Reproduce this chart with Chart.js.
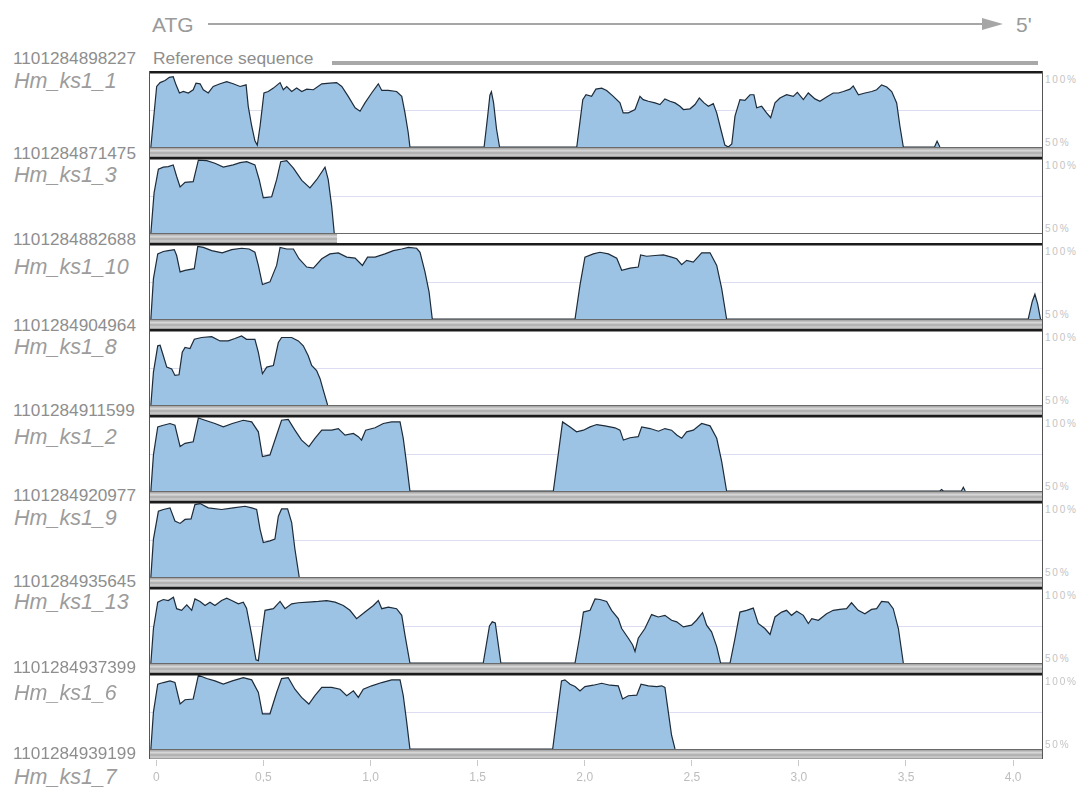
<!DOCTYPE html>
<html>
    <head>
        <meta charset="UTF-8" />
        <title>Conservation plot</title>
        <script src="https://cdn.jsdelivr.net/npm/chart.js@4.4.2/dist/chart.umd.min.js"></script>
        <style>
            body {
                margin: 0;
                width: 1080px;
                height: 789px;
                background: #fff;
                position: relative;
                overflow: hidden;
                font-family: "Liberation Sans", Arial, sans-serif;
            }
            .lbl {
                position: absolute;
                white-space: nowrap;
                line-height: 1;
            }
            .num {
                left: 13px;
                font-size: 17.2px;
                color: #8e8e8e;
            }
            .name {
                left: 14px;
                font-size: 21.5px;
                font-style: italic;
                color: #9c9c9c;
            }
            .pct {
                left: 1045px;
                font-size: 10px;
                letter-spacing: 1.8px;
                color: #c4c4c4;
            }
            canvas {
                position: absolute;
                left: 149px;
            }
        </style>
    </head>
    <body>
        <div class="lbl" style="left: 152px; top: 14px; font-size: 21px; color: #9a9a9a">ATG</div>
        <div style="position: absolute; left: 208px; top: 23px; width: 776px; height: 2px; background: #a6a6a6"></div>
        <div style="position: absolute; left: 982px; top: 18px; width: 0; height: 0; border-top: 6px solid transparent; border-bottom: 6px solid transparent; border-left: 21px solid #a6a6a6"></div>
        <div class="lbl" style="left: 1016px; top: 14px; font-size: 21px; color: #9a9a9a">5'</div>
        <div class="lbl" style="left: 153px; top: 50px; font-size: 17.4px; color: #8e8e8e">Reference sequence</div>
        <div style="position: absolute; left: 332px; top: 61px; width: 706px; height: 4px; background: #a8a8a8"></div>

        <canvas id="axis" width="894" height="44" style="top: 738px"></canvas>
        <div id="panels"></div>

        <script>
            // sequence names (left) and the accession numbers between them
            var names = ["Hm_ks1_1", "Hm_ks1_3", "Hm_ks1_10", "Hm_ks1_8", "Hm_ks1_2", "Hm_ks1_9", "Hm_ks1_13", "Hm_ks1_6", "Hm_ks1_7"];
            var numbers = ["1101284898227", "1101284871475", "1101284882688", "1101284904964", "1101284911599",
                "1101284920977", "1101284935645", "1101284937399", "1101284939199"];
            var nameY = [82, 176, 268, 348, 438, 519, 603, 694, 778];
            var numberY = [58, 153, 239, 325, 410, 495, 581, 667, 753];

            // x axis (kb)
            var xTicks = [0, 0.5, 1.0, 1.5, 2.0, 2.5, 3.0, 3.5, 4.0];
            var xTickLabels = ["0", "0,5", "1,0", "1,5", "2,0", "2,5", "3,0", "3,5", "4,0"];

            // length of each aligned sequence (kb), drawn as the grey bar
            var seqLength = [4.135, 0.856, 4.135, 4.135, 4.135, 4.135, 4.135, 4.135];

            // conservation (%) per position (kb)
            var ks1_1 = [[-0.01,50],[0.017,90.9],[0.033,93.5],[0.056,94.9],[0.076,97.1],[0.094,97.5],[0.107,92],[0.123,86.5],[0.141,87.5],[0.164,86.5],[0.187,88.7],[0.2,93.1],[0.219,92.7],[0.234,88.7],[0.257,86.5],[0.28,90.9],[0.312,92.7],[0.343,94.2],[0.373,92.7],[0.405,90.9],[0.433,92],[0.443,77.5],[0.459,64.2],[0.474,54.2],[0.485,51.3],[0.498,64.2],[0.516,86.5],[0.536,87.5],[0.56,89.8],[0.591,93.5],[0.606,88.7],[0.622,90.9],[0.645,87.5],[0.668,89.8],[0.692,87.5],[0.715,89.1],[0.746,88.7],[0.785,92.7],[0.823,93.1],[0.854,93.5],[0.878,90.9],[0.908,84.2],[0.94,76.5],[0.963,74.2],[0.986,79.8],[1.017,86.5],[1.048,92.7],[1.064,88.2],[1.094,88.2],[1.133,87.5],[1.157,84.2],[1.172,73.1],[1.187,59.8],[1.195,50],
                [1.54,50],[1.556,70],[1.567,85],[1.574,87.3],[1.584,80],[1.598,62],[1.612,50],
                [1.971,50],[1.999,82],[2.014,85.3],[2.04,84.2],[2.06,89.1],[2.087,89.8],[2.11,88.2],[2.141,84.2],[2.172,79.8],[2.187,73.1],[2.211,73.1],[2.242,75.3],[2.265,84.2],[2.28,82],[2.304,80.9],[2.335,79.8],[2.358,78.7],[2.381,82.5],[2.405,80.9],[2.428,79.8],[2.451,77.5],[2.467,75.3],[2.498,75.8],[2.521,78.7],[2.541,83.1],[2.563,79.8],[2.583,77.5],[2.606,79.3],[2.622,73.1],[2.641,62],[2.66,51.3],[2.676,50],[2.692,52],[2.707,70.9],[2.73,82],[2.753,81.5],[2.777,85.3],[2.795,85.3],[2.808,76.5],[2.831,77.5],[2.854,73.1],[2.873,69.8],[2.893,79.8],[2.916,83.1],[2.947,85.3],[2.978,84.2],[2.997,86.9],[3.025,82],[3.048,86.5],[3.079,82.5],[3.102,80.9],[3.133,83.8],[3.164,86.5],[3.188,86.5],[3.211,87.5],[3.242,89.1],[3.257,91.3],[3.281,85.3],[3.312,86.5],[3.343,87.5],[3.366,88.7],[3.389,92],[3.413,90.5],[3.436,87.5],[3.459,79.8],[3.474,64.2],[3.49,50],
                [3.635,50],[3.647,54],[3.66,50]];
            var ks1_3 = [[-0.01,50],[0.005,77.1],[0.025,93.1],[0.048,94.5],[0.071,94.9],[0.094,96],[0.11,88.2],[0.126,81.1],[0.149,84.2],[0.187,84.7],[0.211,99.3],[0.25,98.9],[0.288,97.1],[0.327,94.5],[0.373,96],[0.405,97.5],[0.436,98.2],[0.474,96],[0.494,86],[0.513,73.8],[0.552,74.5],[0.575,86],[0.594,98.2],[0.622,98.9],[0.653,93.8],[0.692,85.5],[0.73,80.5],[0.761,86],[0.8,94.5],[0.815,86],[0.831,68.2],[0.843,50]];
            var ks1_10 = [[-0.01,50],[0.002,77.3],[0.022,94],[0.048,95.6],[0.071,96.2],[0.099,96.9],[0.11,92.9],[0.126,81.8],[0.149,82.9],[0.192,84],[0.208,99.1],[0.234,98.4],[0.273,96.2],[0.322,94.7],[0.366,96.9],[0.412,97.8],[0.447,97.3],[0.474,95.1],[0.49,86.2],[0.509,73.3],[0.544,75.1],[0.575,86.2],[0.591,98.4],[0.622,97.3],[0.653,97.3],[0.679,90.7],[0.715,85.1],[0.746,84.4],[0.785,90.7],[0.823,94],[0.862,94.7],[0.901,91.8],[0.94,91.1],[0.974,86.2],[0.998,91.8],[1.033,91.8],[1.079,94],[1.118,96.2],[1.157,97.3],[1.188,98.4],[1.226,97.8],[1.242,95.1],[1.265,81.8],[1.284,68.4],[1.299,50],
                [1.963,50],[1.986,72.9],[2.009,91.8],[2.048,94],[2.079,95.1],[2.118,94],[2.157,91.1],[2.18,82.9],[2.219,84.4],[2.257,85.1],[2.268,93.3],[2.296,92.4],[2.335,92.9],[2.374,93.3],[2.412,91.8],[2.436,90.7],[2.459,86.7],[2.482,89.6],[2.513,88.4],[2.552,94.7],[2.591,94.7],[2.622,86.2],[2.645,70.7],[2.668,50],
                [4.071,50],[4.09,62],[4.102,66.7],[4.115,60],[4.128,50]];
            var ks1_8 = [[-0.01,50],[0.002,72.2],[0.022,90],[0.033,90.4],[0.048,83.3],[0.064,75.6],[0.087,74.4],[0.102,70],[0.121,70.4],[0.136,85.6],[0.149,88.9],[0.172,88.2],[0.192,94.4],[0.226,95.6],[0.273,96.2],[0.312,93.3],[0.35,93.3],[0.381,94.9],[0.412,96.7],[0.435,94.4],[0.474,94.4],[0.49,85.6],[0.509,71.1],[0.529,75.6],[0.56,76.7],[0.583,92.2],[0.598,95.6],[0.645,95.6],[0.676,93.3],[0.699,90],[0.722,83.3],[0.738,76.7],[0.761,73.3],[0.777,67.8],[0.792,60],[0.812,50]];
            var ks1_2 = [[-0.01,50],[0.002,74.4],[0.022,93.3],[0.048,94.4],[0.079,95.6],[0.102,94.4],[0.126,80],[0.149,82.2],[0.187,83.3],[0.211,99.3],[0.242,97.8],[0.288,95.6],[0.327,93.3],[0.369,95.6],[0.42,97.8],[0.459,96.7],[0.49,90],[0.509,73.3],[0.544,74.4],[0.575,87.8],[0.598,97.8],[0.629,98.4],[0.66,91.1],[0.691,84.4],[0.725,80],[0.753,85.6],[0.785,91.1],[0.831,91.1],[0.862,92.2],[0.893,87.8],[0.932,88.9],[0.955,86.7],[0.97,84.4],[0.989,91.1],[1.033,92.7],[1.071,95.6],[1.11,96.7],[1.149,96.7],[1.164,85.6],[1.18,67.8],[1.195,50],
                [1.862,50],[1.905,96.7],[1.94,93.3],[1.97,90],[2.002,91.1],[2.033,93.3],[2.064,94.9],[2.102,94],[2.149,92.7],[2.172,91.1],[2.188,84.4],[2.219,86],[2.257,86.7],[2.273,93.3],[2.312,92.2],[2.351,90.4],[2.381,92.2],[2.412,91.1],[2.436,87.8],[2.459,85.6],[2.482,90],[2.513,91.1],[2.552,95.6],[2.591,94],[2.622,85.6],[2.645,70],[2.668,50],
                [3.66,50],[3.668,51],[3.676,50],[3.76,50],[3.769,52.5],[3.778,50]];
            var ks1_9 = [[-0.01,50],[0.002,75.6],[0.025,94.4],[0.048,95.6],[0.079,96.7],[0.102,87.8],[0.126,86.2],[0.149,88.9],[0.177,89.3],[0.195,98.9],[0.219,99.6],[0.257,96.7],[0.319,95.6],[0.373,96.7],[0.428,97.8],[0.459,96.7],[0.482,95.6],[0.498,82.2],[0.513,73.3],[0.544,74.4],[0.567,75.6],[0.583,91.1],[0.598,96],[0.626,96],[0.645,86.7],[0.66,68.9],[0.68,50]];
            var ks1_13 = [[-0.01,50],[0.002,73.3],[0.022,91.1],[0.048,92.9],[0.071,92.2],[0.095,94.4],[0.11,86.7],[0.133,85.6],[0.157,89.3],[0.18,85.6],[0.195,93.3],[0.219,91.6],[0.242,88.9],[0.265,91.1],[0.288,88.9],[0.319,92.2],[0.343,93.8],[0.366,92.2],[0.397,90],[0.42,91.1],[0.435,87.1],[0.459,68.9],[0.479,52.2],[0.49,51.6],[0.505,68.9],[0.521,85.6],[0.56,86.7],[0.591,91.6],[0.614,86.7],[0.645,90],[0.676,90.7],[0.722,91.1],[0.769,91.6],[0.808,92.2],[0.847,91.1],[0.885,88.9],[0.916,85.6],[0.947,80],[0.986,84.4],[1.025,88.9],[1.048,92.2],[1.064,86.7],[1.095,87.8],[1.133,86.7],[1.157,82.2],[1.172,68.9],[1.195,50],
                [1.536,50],[1.565,75],[1.578,77.8],[1.592,77],[1.618,50],
                [1.963,50],[1.986,68.9],[2.002,84.4],[2.033,85.6],[2.056,93.3],[2.079,92.9],[2.11,91.6],[2.133,85.6],[2.164,80],[2.18,73.3],[2.211,66.7],[2.231,62.2],[2.242,57.8],[2.257,66.7],[2.288,73.3],[2.319,82.7],[2.35,81.1],[2.381,82.2],[2.412,78.9],[2.436,77.8],[2.467,74.4],[2.505,75.6],[2.528,78.9],[2.556,84],[2.575,75.6],[2.598,71.1],[2.622,61.1],[2.64,50],[2.684,50],[2.707,66.7],[2.73,84.4],[2.761,85.6],[2.792,87.1],[2.815,76.7],[2.846,73.3],[2.87,69.3],[2.893,81.1],[2.924,84.4],[2.947,85.6],[2.97,82.2],[2.994,84.9],[3.025,82.2],[3.048,76.7],[3.064,80],[3.095,78.9],[3.133,83.3],[3.164,85.6],[3.195,86.2],[3.226,86.7],[3.249,90.7],[3.28,85.6],[3.311,83.3],[3.342,86.2],[3.366,86.7],[3.389,91.6],[3.42,91.1],[3.443,86.7],[3.467,73.3],[3.49,50]];
            var ks1_6 = [[-0.01,50],[0.002,74.9],[0.022,93.8],[0.048,94.9],[0.079,96],[0.102,94.9],[0.126,80.4],[0.149,83.3],[0.187,83.8],[0.211,99.8],[0.25,97.6],[0.288,96],[0.327,93.8],[0.369,96],[0.42,98.2],[0.459,96.7],[0.49,88.2],[0.509,73.8],[0.544,73.8],[0.575,88.2],[0.598,97.6],[0.629,98.2],[0.66,90.4],[0.691,84.9],[0.725,80.4],[0.753,86],[0.785,91.6],[0.831,91.6],[0.87,90.4],[0.901,86],[0.932,89.3],[0.955,84.9],[0.978,90.4],[1.017,92.7],[1.064,94.9],[1.11,96.7],[1.149,96.7],[1.164,86],[1.18,68.2],[1.195,50],
                [1.859,50],[1.881,74.9],[1.9,96],[1.916,96.7],[1.94,93.8],[1.963,92.2],[1.986,89.3],[2.009,92.2],[2.048,93.1],[2.087,94.4],[2.126,93.1],[2.164,92.7],[2.184,83.8],[2.211,86],[2.25,86.4],[2.27,93.8],[2.304,92.7],[2.343,92.2],[2.366,92.7],[2.381,91.6],[2.397,74.9],[2.412,59.3],[2.428,50]];

            var series = [ks1_1, ks1_3, ks1_10, ks1_8, ks1_2, ks1_9, ks1_13, ks1_6];

            var X_MIN = -0.014;
            var X_MAX = 4.135;

            Chart.defaults.font.family = "'Liberation Sans', Arial, sans-serif";

            // --- labels ---
            for (var i = 0; i < names.length; i++) {
                var n = document.createElement("div");
                n.className = "lbl name";
                n.style.top = nameY[i] - 11 + "px";
                n.textContent = names[i];
                document.body.appendChild(n);

                var m = document.createElement("div");
                m.className = "lbl num";
                m.style.top = numberY[i] - 8 + "px";
                m.textContent = numbers[i];
                document.body.appendChild(m);
            }

            // frame, grey sequence bar and 75% guide line for each panel
            var panelDeco = {
                id: "panelDeco",
                beforeDatasetsDraw: function (chart) {
                    var ctx = chart.ctx;
                    var a = chart.chartArea;
                    var y75 = chart.scales.y.getPixelForValue(75);
                    ctx.save();
                    ctx.strokeStyle = "#dcdcf2";
                    ctx.lineWidth = 1;
                    ctx.beginPath();
                    ctx.moveTo(a.left, Math.round(y75) + 0.5);
                    ctx.lineTo(a.right, Math.round(y75) + 0.5);
                    ctx.stroke();
                    ctx.restore();
                },
                afterDraw: function (chart) {
                    var ctx = chart.ctx;
                    var a = chart.chartArea;
                    var h = chart.height;
                    var k = chart.options.plugins.panelDeco.index;
                    var end = chart.scales.x.getPixelForValue(seqLength[k]);
                    ctx.save();
                    // baseline
                    ctx.fillStyle = "#6a6a6a";
                    ctx.fillRect(a.left, a.bottom, a.right - a.left, 1);
                    // grey bar
                    var g = ctx.createLinearGradient(0, a.bottom + 1, 0, h);
                    g.addColorStop(0, "#a0a0a0");
                    g.addColorStop(0.3, "#dadada");
                    g.addColorStop(0.55, "#a9a9a9");
                    g.addColorStop(0.8, "#d2d2d2");
                    g.addColorStop(1, "#8c8c8c");
                    ctx.fillStyle = g;
                    ctx.fillRect(a.left, a.bottom + 1, Math.min(end, a.right) - a.left, h - a.bottom - 1);
                    // frame
                    ctx.fillStyle = "#1b1b1b";
                    ctx.fillRect(0, 0, chart.width, 2.5);
                    ctx.fillStyle = "#555";
                    ctx.fillRect(0, 0, 1, h);
                    ctx.fillRect(chart.width - 1, 0, 1, h);
                    ctx.restore();
                },
            };

            var holder = document.getElementById("panels");
            for (var k = 0; k < series.length; k++) {
                var panelTop = 71 + 86 * k;
                var cv = document.createElement("canvas");
                cv.width = 894;
                cv.height = 86;
                cv.style.top = panelTop + "px";
                holder.appendChild(cv);

                var p100 = document.createElement("div");
                p100.className = "lbl pct";
                p100.style.top = panelTop + 4 + "px";
                p100.textContent = "100%";
                holder.appendChild(p100);
                var p50 = document.createElement("div");
                p50.className = "lbl pct";
                p50.style.top = panelTop + 67 + "px";
                p50.textContent = "50%";
                holder.appendChild(p50);

                new Chart(cv.getContext("2d"), {
                    type: "line",
                    plugins: [panelDeco],
                    data: {
                        datasets: [
                            {
                                data: series[k].map(function (p) {
                                    return { x: p[0], y: p[1] };
                                }),
                                borderColor: "#1e2b39",
                                borderWidth: 1.2,
                                backgroundColor: "#9dc3e4",
                                fill: { value: 50 },
                                pointRadius: 0,
                                tension: 0,
                            },
                        ],
                    },
                    options: {
                        responsive: false,
                        animation: false,
                        events: [],
                        layout: { padding: { top: 2, bottom: 10, left: 1, right: 1 } },
                        plugins: {
                            legend: { display: false },
                            tooltip: { enabled: false },
                            panelDeco: { index: k },
                        },
                        scales: {
                            x: { type: "linear", min: X_MIN, max: X_MAX, display: false },
                            y: { min: 50, max: 100, display: false },
                        },
                    },
                });
            }

            // --- bottom x axis ---
            new Chart(document.getElementById("axis").getContext("2d"), {
                type: "line",
                data: { datasets: [{ data: [] }] },
                options: {
                    responsive: false,
                    animation: false,
                    events: [],
                    layout: { padding: { left: 1, right: 1 } },
                    plugins: { legend: { display: false }, tooltip: { enabled: false } },
                    scales: {
                        x: {
                            type: "linear",
                            min: X_MIN,
                            max: X_MAX,
                            position: "bottom",
                            border: { display: false },
                            grid: { drawOnChartArea: false, drawTicks: true, tickLength: 6, color: "#c9c9c9" },
                            afterBuildTicks: function (scale) {
                                scale.ticks = xTicks.map(function (v) {
                                    return { value: v };
                                });
                            },
                            ticks: {
                                autoSkip: false,
                                maxRotation: 0,
                                padding: 4,
                                color: "#bdbdbd",
                                font: { size: 12 },
                                callback: function (value, index) {
                                    return xTickLabels[index];
                                },
                            },
                        },
                        y: { display: false },
                    },
                },
            });
        </script>
    </body>
</html>
